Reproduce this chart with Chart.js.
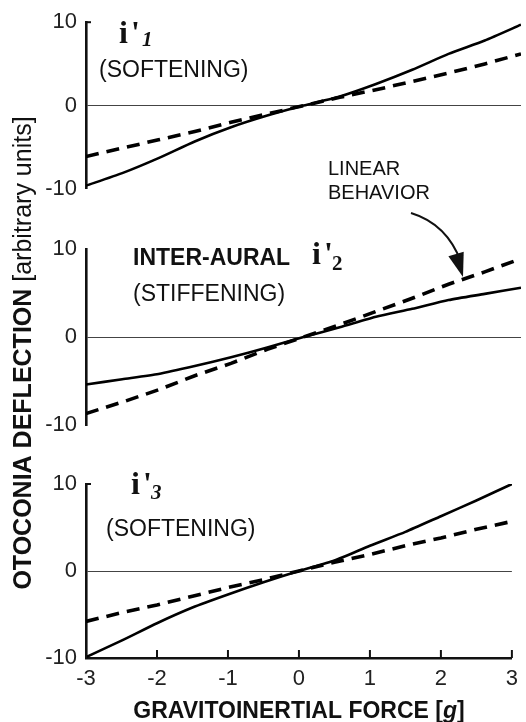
<!DOCTYPE html>
<html><head><meta charset="utf-8">
<script src="https://cdn.jsdelivr.net/npm/chart.js@4.4.1/dist/chart.umd.min.js"></script>
<style>
html,body{margin:0;padding:0;background:#fff;}
#wrap{position:relative;width:526px;height:722px;background:#fff;}
canvas{position:absolute;left:0;top:0;}
</style></head><body>
<div id="wrap">
<canvas id="c1" width="526" height="722"></canvas>
<canvas id="c2" width="526" height="722"></canvas>
<canvas id="c3" width="526" height="722"></canvas>
</div>
<script>
// ---- data ----
const xValues = [-3, -2.5, -2, -1.5, -1, -0.5, 0, 0.5, 1, 1.5, 2, 2.5, 3];
const xTickValues = [-3, -2, -1, 0, 1, 2, 3];
const yTickValues = [-10, 0, 10];
const softening1Solid  = [-9.6, -8.1, -6.3, -4.3, -2.6, -1.2, 0, 1.1, 2.6, 4.3, 6.2, 7.8, 9.7];
const softening1Dashed = [-6.1, -5.1, -4.1, -3.1, -2.0, -1.0, 0, 1.0, 1.9, 2.9, 3.9, 5.0, 6.2];
const interAuralSolid  = [-5.4, -4.8, -4.2, -3.3, -2.3, -1.2, 0, 1.1, 2.3, 3.2, 4.2, 4.9, 5.6];
const interAuralDashed = [-8.7, -7.4, -6.0, -4.4, -3.0, -1.4, 0, 1.4, 2.9, 4.4, 6.0, 7.4, 8.9];
const softening3Solid  = [-9.9, -8.0, -6.0, -4.2, -2.7, -1.3, 0, 1.2, 2.9, 4.5, 6.3, 8.1, 10.0];
const softening3Dashed = [-5.8, -4.8, -3.9, -2.9, -1.9, -1.0, 0, 1.0, 1.9, 2.9, 3.8, 4.8, 5.7];

const SANS = '"Liberation Sans", Arial, Helvetica, sans-serif';
const SERIF = '"Liberation Serif", "Times New Roman", serif';

function pts(arr){ return xValues.map((x,i)=>({x:x, y:arr[i]})); }

function datasets(solid, dashed){
  return [
    {label:'solid', data:pts(solid), borderColor:'#000', borderWidth:2.6, pointRadius:0, tension:0.2, fill:false},
    {label:'dashed', data:pts(dashed), borderColor:'#000', borderWidth:3.6, borderDash:[13,8], pointRadius:0, tension:0, fill:false}
  ];
}

function txt(ctx, s, x, y, font, align){
  ctx.save();
  ctx.font = font; ctx.fillStyle = '#111';
  ctx.textAlign = align || 'left'; ctx.textBaseline = 'alphabetic';
  ctx.fillText(s, x, y);
  ctx.restore();
}

function rich(ctx, parts, cx, y){
  ctx.save();
  let total = 0;
  parts.forEach(p=>{ ctx.font = p.font; p.w = ctx.measureText(p.t).width; total += p.w; });
  let x = cx - total/2;
  ctx.fillStyle = '#111'; ctx.textBaseline = 'alphabetic'; ctx.textAlign = 'left';
  parts.forEach(p=>{ ctx.font = p.font; ctx.fillText(p.t, x, y); x += p.w; });
  ctx.restore();
}

function decorPlugin(opts){
  return {
    id: 'decor',
    afterDraw(chart){
      const ctx = chart.ctx;
      const xs = chart.scales.x, ys = chart.scales.y;
      ctx.save();
      ctx.strokeStyle = '#111'; ctx.lineWidth = 2;
      if (opts.topStub){
        const yp = ys.getPixelForValue(10);
        ctx.beginPath(); ctx.moveTo(xs.left, yp); ctx.lineTo(xs.left + 5, yp); ctx.stroke();
      }
      if (opts.xTicks){
        xTickValues.forEach(v=>{
          const xp = xs.getPixelForValue(v);
          ctx.beginPath(); ctx.moveTo(xp, ys.bottom); ctx.lineTo(xp, ys.bottom - 8); ctx.stroke();
        });
      }
      ctx.restore();
      opts.draw(ctx);
    }
  };
}

function makeChart(id, solid, dashed, padTop, padBottom, showX, opts){
  const xScale = showX ? {
    type:'linear', min:-3, max:3,
    afterFit(s){ s.height = 64; },
    afterBuildTicks(s){ s.ticks = xTickValues.map(v=>({value:v})); },
    ticks:{ font:{family:SANS, size:22}, color:'#222', padding:8, maxRotation:0 },
    grid:{ display:false, drawTicks:false },
    border:{ display:true, color:'#111', width:2.6 }
  } : { type:'linear', min:-3, max:3, display:false };
  return new Chart(document.getElementById(id), {
    type:'line',
    data:{ datasets: datasets(solid, dashed) },
    options:{
      responsive:false, animation:false, devicePixelRatio:1,
      layout:{ padding:{ top:padTop, bottom:padBottom, left:0, right:5 } },
      plugins:{ legend:{display:false}, tooltip:{enabled:false} },
      scales:{
        x: xScale,
        y:{
          type:'linear', min:-10, max:10,
          afterFit(s){ s.width = 86; },
          afterBuildTicks(s){ s.ticks = yTickValues.map(v=>({value:v})); },
          ticks:{ font:{family:SANS, size:22}, color:'#222', padding:9 },
          grid:{ drawTicks:false, lineWidth:1, color:(c)=> (c.tick && c.tick.value === 0) ? '#444' : 'rgba(0,0,0,0)' },
          border:{ display:true, color:'#111', width:2.6 }
        }
      }
    },
    plugins:[ decorPlugin(opts) ]
  });
}

// Panel 1
makeChart('c1', softening1Solid, softening1Dashed, 16, 722-189, false, {
  topStub:true,
  draw(ctx){
    txt(ctx, 'i', 119, 43, 'bold 32px '+SERIF);
    txt(ctx, "'", 131, 43, 'bold 32px '+SERIF);
    txt(ctx, '1', 142, 46, 'italic bold 21px '+SERIF);
    txt(ctx, '(SOFTENING)', 99, 77, '23px '+SANS);
    txt(ctx, 'LINEAR', 328, 175, '20px '+SANS);
    txt(ctx, 'BEHAVIOR', 328, 199, '20px '+SANS);
  }
});

// Panel 2
makeChart('c2', interAuralSolid, interAuralDashed, 249, 722-425, false, {
  topStub:false,
  draw(ctx){
    txt(ctx, 'INTER-AURAL', 133, 265, 'bold 23px '+SANS);
    txt(ctx, 'i', 312, 264, 'bold 32px '+SERIF);
    txt(ctx, "'", 324, 264, 'bold 32px '+SERIF);
    txt(ctx, '2', 332, 270, 'bold 21px '+SERIF);
    txt(ctx, '(STIFFENING)', 133, 301, '23px '+SANS);
    // arrow from the LINEAR BEHAVIOR note
    ctx.save();
    ctx.strokeStyle = '#111'; ctx.fillStyle = '#111'; ctx.lineWidth = 2;
    const p0 = {x:411, y:213}, c = {x:447, y:224}, p2 = {x:461, y:262};
    ctx.beginPath(); ctx.moveTo(p0.x, p0.y); ctx.quadraticCurveTo(c.x, c.y, p2.x, p2.y); ctx.stroke();
    const tip = {x:463, y:277};
    const ang = Math.atan2(tip.y - c.y, tip.x - c.x);
    const L = 24, W = 8;
    const bx = tip.x - L*Math.cos(ang), by = tip.y - L*Math.sin(ang);
    ctx.beginPath();
    ctx.moveTo(tip.x, tip.y);
    ctx.lineTo(bx + W*Math.sin(ang), by - W*Math.cos(ang));
    ctx.lineTo(bx - W*Math.sin(ang), by + W*Math.cos(ang));
    ctx.closePath(); ctx.fill();
    ctx.restore();
  }
});

// Panel 3
makeChart('c3', softening3Solid, softening3Dashed, 484, 0, true, {
  topStub:true, xTicks:true,
  draw(ctx){
    txt(ctx, 'i', 131, 494, 'bold 32px '+SERIF);
    txt(ctx, "'", 143, 494, 'bold 32px '+SERIF);
    txt(ctx, '3', 151, 499, 'italic bold 21px '+SERIF);
    txt(ctx, '(SOFTENING)', 106, 536, '23px '+SANS);
    // x-axis title
    rich(ctx, [
      {t:'GRAVITOINERTIAL FORCE [', font:'bold 23px '+SANS},
      {t:'g', font:'italic bold 23px '+SANS},
      {t:']', font:'bold 23px '+SANS}
    ], 299, 718);
    // y-axis title (shared by the three panels)
    ctx.save();
    ctx.translate(31, 353);
    ctx.rotate(-Math.PI/2);
    rich(ctx, [
      {t:'OTOCONIA DEFLECTION ', font:'bold 25px '+SANS},
      {t:'[arbitrary units]', font:'25px '+SANS}
    ], 0, 0);
    ctx.restore();
  }
});
</script>
</body></html>
